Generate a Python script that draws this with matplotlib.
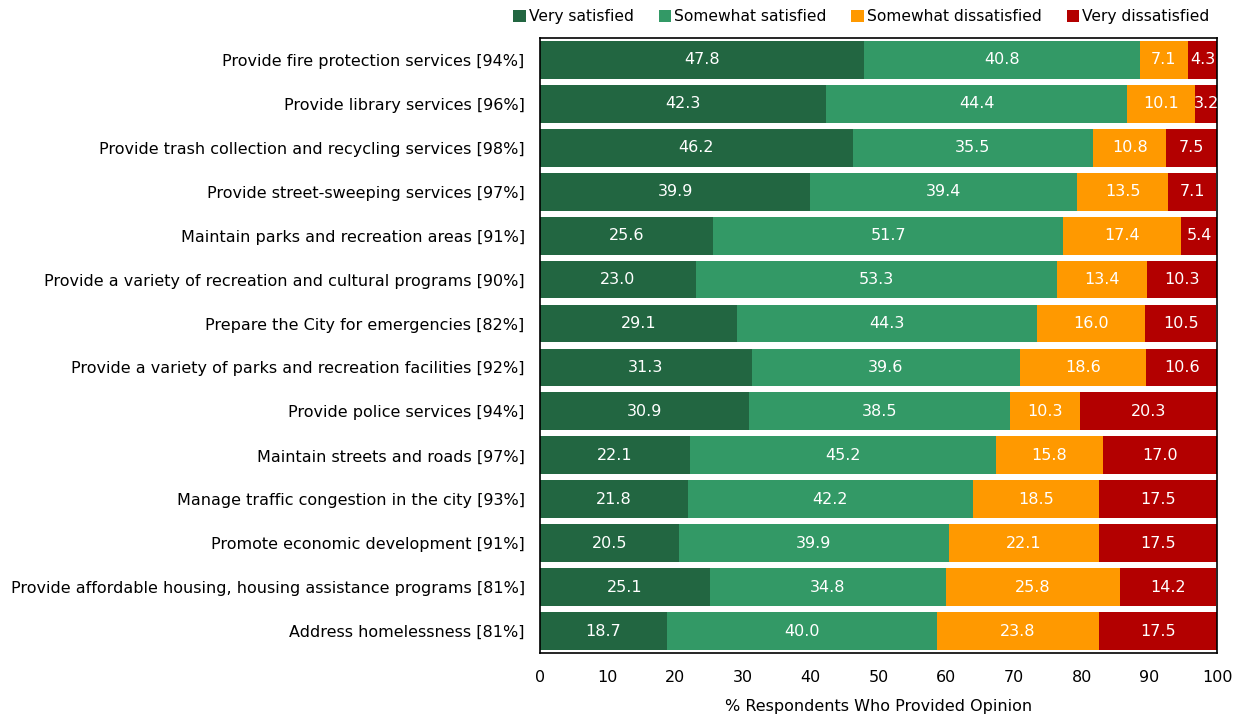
import numpy as np
import matplotlib
matplotlib.use("Agg")
import matplotlib.pyplot as plt
from matplotlib.patches import Patch

plt.rcParams["font.family"] = "DejaVu Sans"

categories = [
    "Provide fire protection services [94%]",
    "Provide library services [96%]",
    "Provide trash collection and recycling services [98%]",
    "Provide street-sweeping services [97%]",
    "Maintain parks and recreation areas [91%]",
    "Provide a variety of recreation and cultural programs [90%]",
    "Prepare the City for emergencies [82%]",
    "Provide a variety of parks and recreation facilities [92%]",
    "Provide police services [94%]",
    "Maintain streets and roads [97%]",
    "Manage traffic congestion in the city [93%]",
    "Promote economic development [91%]",
    "Provide affordable housing, housing assistance programs [81%]",
    "Address homelessness [81%]",
]
very_sat = [47.8, 42.3, 46.2, 39.9, 25.6, 23.0, 29.1, 31.3, 30.9, 22.1, 21.8, 20.5, 25.1, 18.7]
somewhat_sat = [40.8, 44.4, 35.5, 39.4, 51.7, 53.3, 44.3, 39.6, 38.5, 45.2, 42.2, 39.9, 34.8, 40.0]
somewhat_dis = [7.1, 10.1, 10.8, 13.5, 17.4, 13.4, 16.0, 18.6, 10.3, 15.8, 18.5, 22.1, 25.8, 23.8]
very_dis = [4.3, 3.2, 7.5, 7.1, 5.4, 10.3, 10.5, 10.6, 20.3, 17.0, 17.5, 17.5, 14.2, 17.5]

series = ["Very satisfied", "Somewhat satisfied", "Somewhat dissatisfied", "Very dissatisfied"]
colors = ["#226641", "#339966", "#ff9900", "#b30000"]

fig = plt.figure(figsize=(12.42, 7.17), dpi=100)
ax = fig.add_axes([0.4348, 0.0893, 0.5451, 0.8577])

y = np.arange(len(categories))
left = np.zeros(len(categories))
for vals, col in zip([very_sat, somewhat_sat, somewhat_dis, very_dis], colors):
    vals = np.array(vals)
    ax.barh(y, vals, left=left, height=0.86, color=col, edgecolor="none")
    for yi, l, v in zip(y, left, vals):
        ax.text(l + v / 2, yi, f"{v:.1f}", ha="center", va="center",
                color="white", fontsize=11.5)
    left += vals

ax.set_xlim(0, 100)
ax.set_ylim(len(categories) - 0.5, -0.5)
ax.set_yticks(y)
ax.set_yticklabels(categories, fontsize=11.5, va="center_baseline")
ax.set_xticks(np.arange(0, 101, 10))
ax.tick_params(axis="both", length=0, labelsize=11.5)
ax.tick_params(axis="x", pad=12)
ax.tick_params(axis="y", pad=11)
ax.set_xlabel("% Respondents Who Provided Opinion", fontsize=11.5, labelpad=10)
for s in ax.spines.values():
    s.set_color("black")
    s.set_linewidth(1.2)

handles = [Patch(facecolor=c, edgecolor="none") for c in colors]
fig.legend(handles, series, loc="upper right", bbox_to_anchor=(0.985, 1.007),
           ncol=4, frameon=False, fontsize=11.2, handlelength=0.8,
           handleheight=0.8, handletextpad=0.2, columnspacing=1.6)

fig.savefig("out.png", dpi=100)
